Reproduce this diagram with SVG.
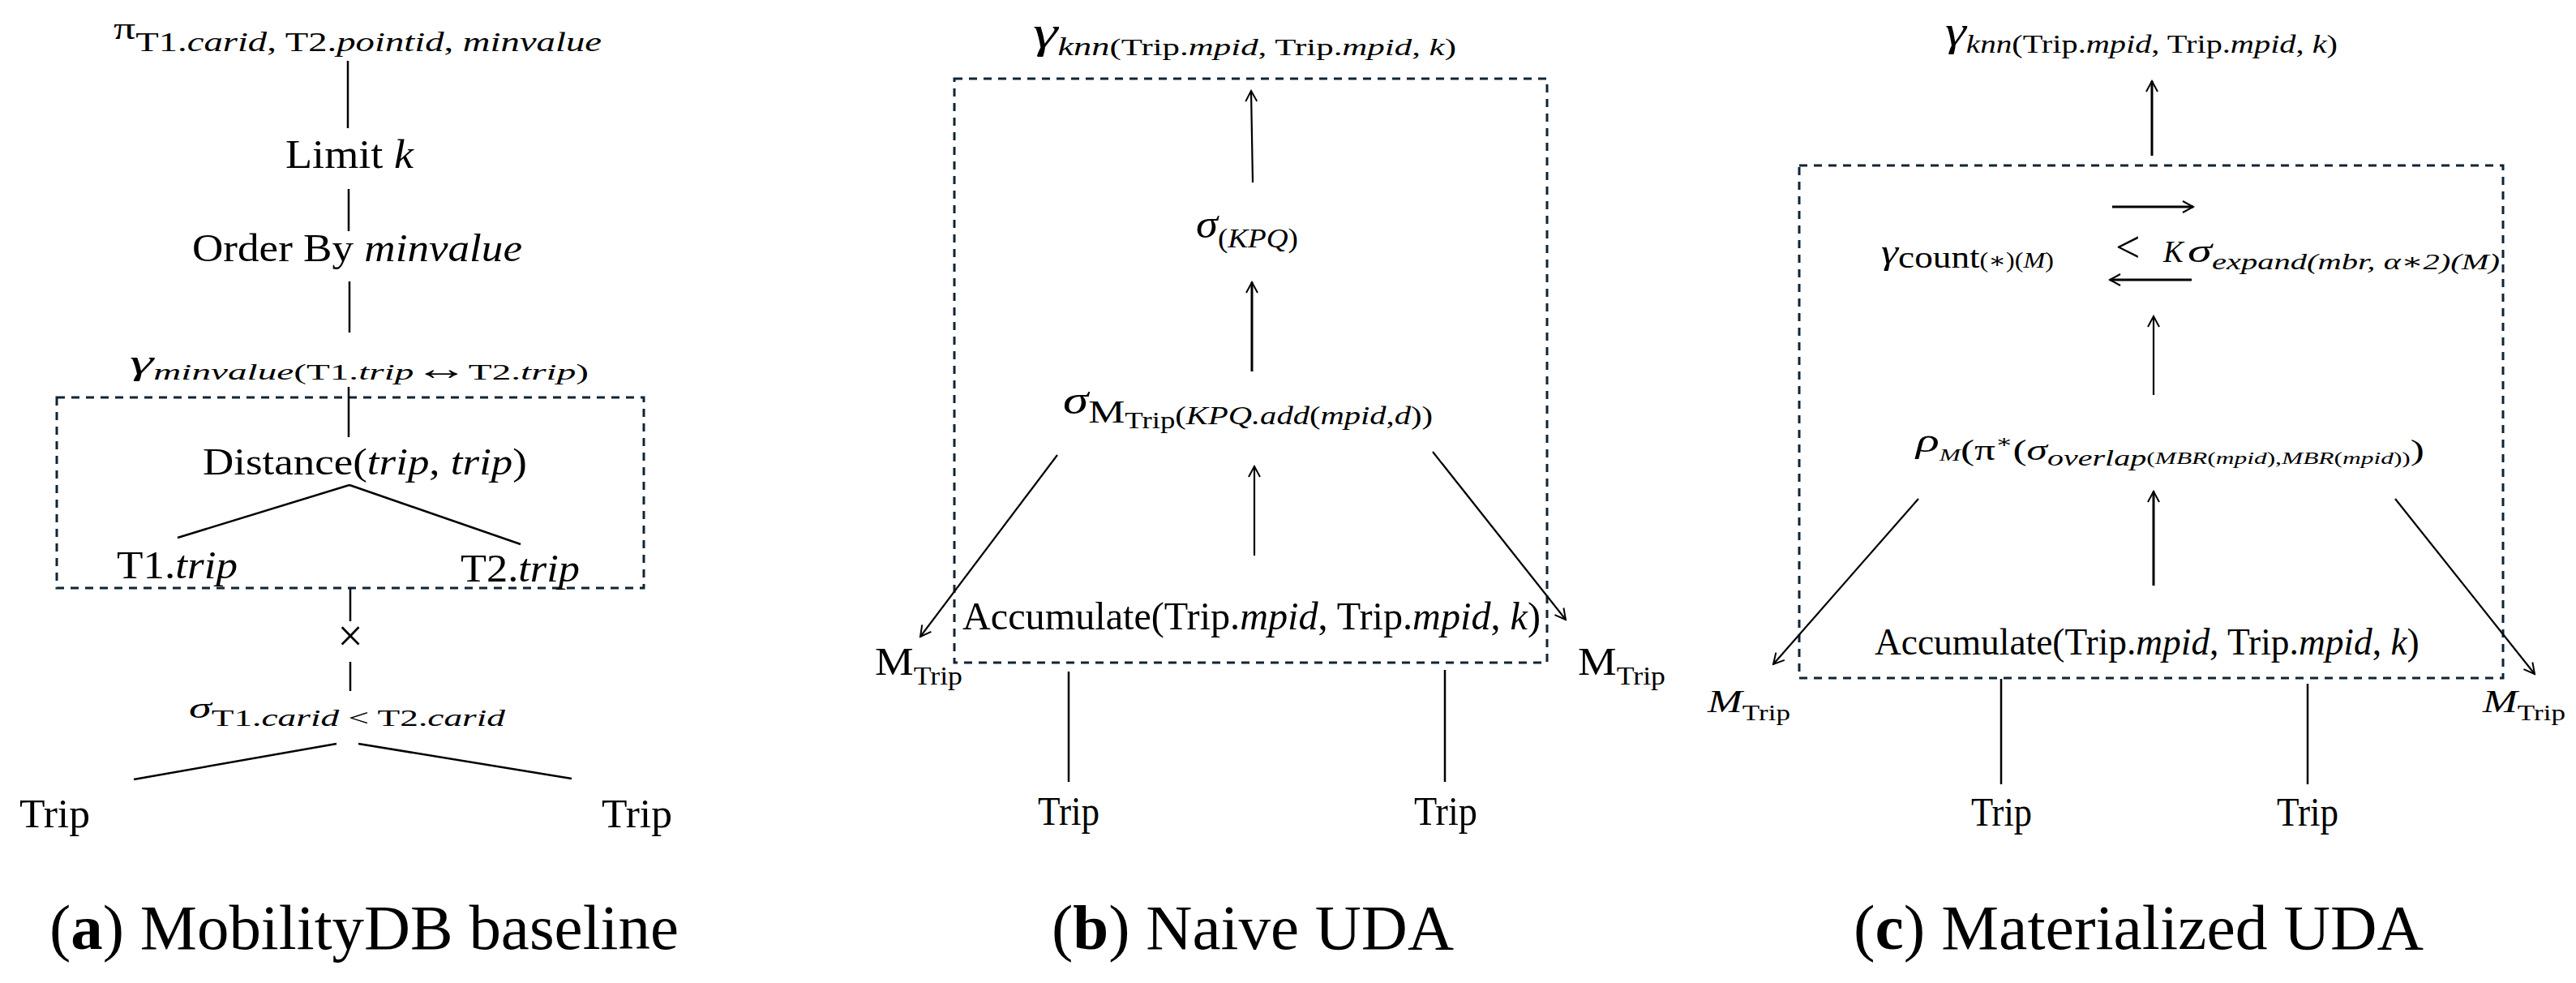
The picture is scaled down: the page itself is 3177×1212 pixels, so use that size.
<svg xmlns="http://www.w3.org/2000/svg" width="3177" height="1212" viewBox="0 0 3177 1212">
<style>
text{font-family:"Liberation Serif","DejaVu Serif",serif;fill:#000}
.i{font-style:italic}
.ln{stroke:#000;stroke-width:2.5;fill:none}
.ar{stroke:#000;stroke-width:2.2;fill:none;marker-end:url(#ah)}
.ar3{stroke:#000;stroke-width:3;fill:none;marker-end:url(#ah)}
.box{stroke:#0f2535;stroke-width:3;stroke-dasharray:10 8;fill:none}
</style>
<defs>
<marker id="ah" viewBox="0 0 16 16" refX="14" refY="8" markerWidth="16" markerHeight="16" markerUnits="userSpaceOnUse" orient="auto">
<path d="M1,1 L14,8 L1,15" fill="none" stroke="#000" stroke-width="2"/>
</marker>
</defs>
<rect width="3177" height="1212" fill="#fff"/>

<g id="a-box"><rect class="box" x="70" y="490" width="724" height="235"/></g>
<g id="b-box"><rect class="box" x="1177" y="97" width="731" height="720"/></g>
<g id="c-box"><rect class="box" x="2219" y="204" width="868" height="632"/></g>

<g id="connectors">
<line class="ln" x1="429" y1="75" x2="429" y2="158"/>
<line class="ln" x1="430" y1="233" x2="430" y2="285"/>
<line class="ln" x1="431" y1="347" x2="431" y2="410"/>
<line class="ln" x1="430" y1="477" x2="430" y2="539"/>
<line class="ln" x1="431" y1="598" x2="219" y2="663"/>
<line class="ln" x1="431" y1="598" x2="642" y2="671"/>
<line class="ln" x1="432" y1="726" x2="432" y2="766"/>
<line class="ln" x1="432" y1="816" x2="432" y2="852"/>
<line class="ln" x1="415" y1="917" x2="165" y2="961"/>
<line class="ln" x1="442" y1="917" x2="705" y2="960"/>

<line class="ar" x1="1545" y1="225" x2="1543" y2="112"/>
<line class="ar3" x1="1544" y1="458" x2="1544" y2="348"/>
<line class="ar" x1="1547" y1="685" x2="1547" y2="575"/>
<line class="ar" x1="1304" y1="561" x2="1135" y2="785"/>
<line class="ar" x1="1767" y1="557" x2="1931" y2="764"/>
<line class="ln" x1="1318" y1="828" x2="1318" y2="964" stroke-width="2"/>
<line class="ln" x1="1782" y1="826" x2="1782" y2="964" stroke-width="2"/>

<line class="ar3" x1="2654" y1="192" x2="2654" y2="100"/>
<line class="ar3" x1="2605" y1="255" x2="2705" y2="255"/>
<line class="ar3" x1="2703" y1="345" x2="2602" y2="345"/>
<line class="ar" x1="2656" y1="487" x2="2656" y2="390"/>
<line class="ar3" x1="2656" y1="722" x2="2656" y2="606"/>
<line class="ar" x1="2366" y1="615" x2="2187" y2="819"/>
<line class="ar" x1="2954" y1="615" x2="3126" y2="831"/>
<line class="ln" x1="2468" y1="837" x2="2468" y2="967" stroke-width="2"/>
<line class="ln" x1="2846" y1="843" x2="2846" y2="967" stroke-width="2"/>
</g>

<g id="a-proj"><text x="140" y="48" textLength="602" lengthAdjust="spacingAndGlyphs"><tspan font-size="38">π</tspan><tspan font-size="33" dy="15">T1.<tspan class="i">carid</tspan>, T2.<tspan class="i">pointid</tspan>, <tspan class="i">minvalue</tspan></tspan></text></g>
<g id="a-limit"><text x="352" y="207" font-size="50" textLength="158" lengthAdjust="spacingAndGlyphs">Limit <tspan class="i">k</tspan></text></g>
<g id="a-order"><text x="237" y="322" font-size="48" textLength="407" lengthAdjust="spacingAndGlyphs">Order By <tspan class="i">minvalue</tspan></text></g>
<g id="a-gamma"><text x="160" y="461" textLength="566" lengthAdjust="spacingAndGlyphs"><tspan class="i" font-size="44">γ</tspan><tspan class="i" font-size="28" dy="7">minvalue</tspan><tspan font-size="28">(T1.<tspan class="i">trip</tspan><tspan font-size="40">↔</tspan>T2.<tspan class="i">trip</tspan>)</tspan></text></g>
<g id="a-distance"><text x="250" y="585" font-size="46" textLength="400" lengthAdjust="spacingAndGlyphs">Distance(<tspan class="i">trip</tspan>, <tspan class="i">trip</tspan>)</text></g>
<g id="a-t1trip"><text x="144" y="713" font-size="48" textLength="149" lengthAdjust="spacingAndGlyphs">T1.<tspan class="i">trip</tspan></text></g>
<g id="a-t2trip"><text x="568" y="717" font-size="48" textLength="147" lengthAdjust="spacingAndGlyphs">T2.<tspan class="i">trip</tspan></text></g>
<g id="a-cross"><text x="432" y="803" font-size="56" text-anchor="middle">×</text></g>
<g id="a-sigma"><text x="233" y="885" textLength="390" lengthAdjust="spacingAndGlyphs"><tspan class="i" font-size="36">σ</tspan><tspan font-size="29" dy="10">T1.<tspan class="i">carid</tspan> &lt; T2.<tspan class="i">carid</tspan></tspan></text></g>
<g id="a-trip1"><text x="24" y="1020" font-size="51" textLength="87" lengthAdjust="spacingAndGlyphs">Trip</text></g>
<g id="a-trip2"><text x="742" y="1020" font-size="51" textLength="87" lengthAdjust="spacingAndGlyphs">Trip</text></g>

<g id="b-gamma"><text x="1274" y="58" textLength="522" lengthAdjust="spacingAndGlyphs"><tspan class="i" font-size="54">γ</tspan><tspan class="i" font-size="31" dy="10">knn</tspan><tspan font-size="30">(Trip.<tspan class="i">mpid</tspan>, Trip.<tspan class="i">mpid</tspan>,  <tspan class="i">k</tspan>)</tspan></text></g>
<g id="b-sigmakpq"><text x="1475" y="293" textLength="126" lengthAdjust="spacingAndGlyphs"><tspan class="i" font-size="50">σ</tspan><tspan font-size="34" dy="12">(<tspan class="i">KPQ</tspan>)</tspan></text></g>
<g id="b-sigmam"><text x="1311" y="510" textLength="456" lengthAdjust="spacingAndGlyphs"><tspan class="i" font-size="50">σ</tspan><tspan font-size="40" dy="11">M</tspan><tspan font-size="29" dy="7">Trip</tspan><tspan font-size="32" dy="-5">(<tspan class="i">KPQ.add</tspan>(<tspan class="i">mpid</tspan>,<tspan class="i">d</tspan>))</tspan></text></g>
<g id="b-accumulate"><text x="1187" y="776" font-size="48.2">Accumulate(Trip.<tspan class="i">mpid</tspan>, Trip.<tspan class="i">mpid</tspan>, <tspan class="i">k</tspan>)</text></g>
<g id="b-mtrip-left"><text x="1079" y="832" textLength="108" lengthAdjust="spacingAndGlyphs"><tspan font-size="48">M</tspan><tspan font-size="32" dy="12">Trip</tspan></text></g>
<g id="b-mtrip-right"><text x="1946" y="832" textLength="108" lengthAdjust="spacingAndGlyphs"><tspan font-size="48">M</tspan><tspan font-size="32" dy="12">Trip</tspan></text></g>
<g id="b-trip1"><text x="1280" y="1017" font-size="50" textLength="76" lengthAdjust="spacingAndGlyphs">Trip</text></g>
<g id="b-trip2"><text x="1744" y="1017" font-size="50" textLength="78" lengthAdjust="spacingAndGlyphs">Trip</text></g>

<g id="c-gamma"><text x="2399" y="56" textLength="484" lengthAdjust="spacingAndGlyphs"><tspan class="i" font-size="52">γ</tspan><tspan class="i" font-size="31" dy="9">knn</tspan><tspan font-size="32">(Trip.<tspan class="i">mpid</tspan>, Trip.<tspan class="i">mpid</tspan>, <tspan class="i">k</tspan>)</tspan></text></g>
<g id="c-gammacount"><text x="2320" y="325" textLength="213" lengthAdjust="spacingAndGlyphs"><tspan class="i" font-size="45">γ</tspan><tspan font-size="38" dy="5">count</tspan><tspan font-size="27">(∗)(<tspan class="i">M</tspan>)</tspan></text></g>
<g id="c-lessk"><text y="323"><tspan x="2609" font-size="54">&lt;</tspan><tspan x="2668" class="i" font-size="37">K</tspan></text></g>
<g id="c-sigmaexpand"><text x="2698" y="323" textLength="385" lengthAdjust="spacingAndGlyphs"><tspan class="i" font-size="42">σ</tspan><tspan class="i" font-size="28" dy="9">expand(mbr, α∗2)(M)</tspan></text></g>
<g id="c-rho"><text x="2363" y="557" textLength="627" lengthAdjust="spacingAndGlyphs"><tspan class="i" font-size="42">ρ</tspan><tspan class="i" font-size="22" dy="11">M</tspan><tspan font-size="36" dy="-1">(π</tspan><tspan font-size="22" dy="-15">∗</tspan><tspan font-size="36" dy="15">(<tspan class="i">σ</tspan></tspan><tspan class="i" font-size="28" dy="7">overlap</tspan><tspan font-size="22" dy="-2">(<tspan class="i">MBR</tspan>(<tspan class="i">mpid</tspan>),<tspan class="i">MBR</tspan>(<tspan class="i">mpid</tspan>))</tspan><tspan font-size="36" dy="-5">)</tspan></text></g>
<g id="c-accumulate"><text x="2312" y="807" font-size="45.4">Accumulate(Trip.<tspan class="i">mpid</tspan>, Trip.<tspan class="i">mpid</tspan>, <tspan class="i">k</tspan>)</text></g>
<g id="c-mtrip-left"><text x="2106" y="878" textLength="102" lengthAdjust="spacingAndGlyphs"><tspan class="i" font-size="41">M</tspan><tspan font-size="28" dy="10">Trip</tspan></text></g>
<g id="c-mtrip-right"><text x="3062" y="878" textLength="102" lengthAdjust="spacingAndGlyphs"><tspan class="i" font-size="41">M</tspan><tspan font-size="28" dy="10">Trip</tspan></text></g>
<g id="c-trip1"><text x="2431" y="1018" font-size="50" textLength="75" lengthAdjust="spacingAndGlyphs">Trip</text></g>
<g id="c-trip2"><text x="2808" y="1018" font-size="50" textLength="76" lengthAdjust="spacingAndGlyphs">Trip</text></g>

<g id="captions">
<text x="61" y="1170" font-size="78" textLength="776" lengthAdjust="spacingAndGlyphs">(<tspan font-weight="bold">a</tspan>) MobilityDB baseline</text>
<text x="1297" y="1170" font-size="78" textLength="496" lengthAdjust="spacingAndGlyphs">(<tspan font-weight="bold">b</tspan>) Naive UDA</text>
<text x="2286" y="1170" font-size="78" textLength="703" lengthAdjust="spacingAndGlyphs">(<tspan font-weight="bold">c</tspan>) Materialized UDA</text>
</g>
</svg>
